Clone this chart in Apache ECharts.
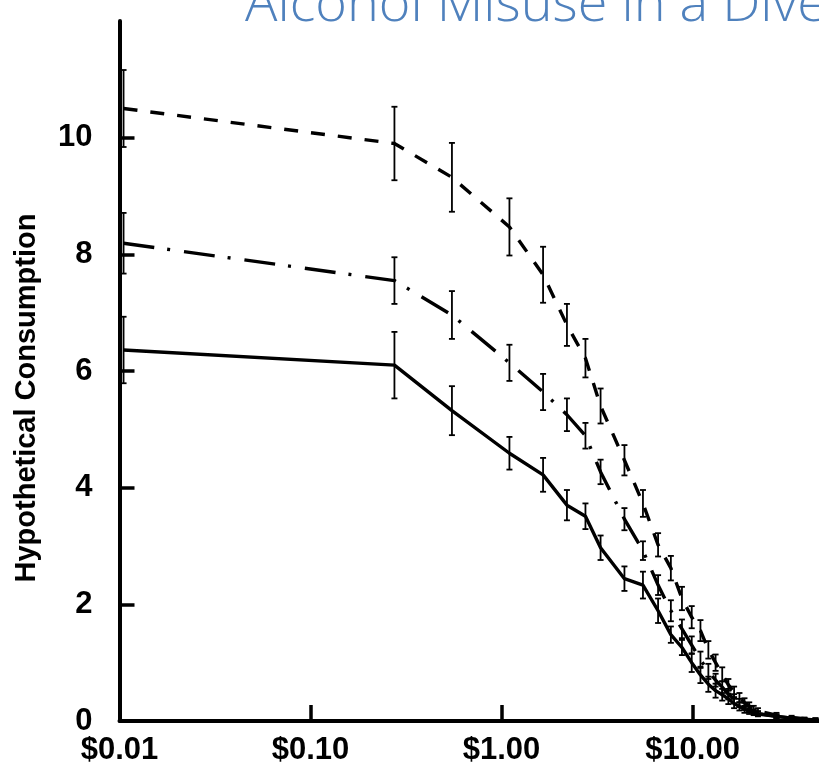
<!DOCTYPE html>
<html>
<head>
<meta charset="utf-8">
<script src="https://cdn.jsdelivr.net/npm/echarts@6/dist/echarts.min.js"></script>
<style>
  html, body { margin: 0; padding: 0; background: #ffffff; overflow: hidden; }
  #chart { width: 860px; height: 780px; }
</style>
</head>
<body>
<div id="chart"></div>
<script>
// Price per drink (log scale) at which consumption was reported
const prices = [0.0105, 0.275, 0.55, 1.1, 1.65, 2.2, 2.75, 3.3, 4.4, 5.5, 6.6, 7.7, 8.8, 9.9,
                11, 12.1, 13.2, 14.3, 15.4, 16.5, 17.6, 18.7, 19.8, 20.9, 22, 27.5, 33, 38.5, 44];

// Mean hypothetical consumption per group
const groupHigh = [10.50, 9.90, 9.32, 8.47, 7.65, 6.79, 6.22, 5.40, 4.47, 3.73, 3.02, 2.62, 2.10, 1.78,
                   1.55, 1.22, 1.00, 0.80, 0.62, 0.50, 0.40, 0.32, 0.26, 0.21, 0.17, 0.10, 0.06, 0.04, 0.03];
const groupMid  = [8.19, 7.55, 6.96, 6.14, 5.64, 5.25, 4.89, 4.27, 3.46, 2.92, 2.33, 1.89, 1.58, 1.30,
                   1.05, 0.85, 0.70, 0.58, 0.46, 0.38, 0.31, 0.25, 0.20, 0.16, 0.13, 0.08, 0.05, 0.03, 0.02];
const groupLow  = [6.36, 6.10, 5.32, 4.59, 4.22, 3.70, 3.51, 2.97, 2.44, 2.33, 1.89, 1.48, 1.26, 1.00,
                   0.79, 0.63, 0.52, 0.45, 0.38, 0.30, 0.25, 0.20, 0.17, 0.14, 0.12, 0.08, 0.05, 0.03, 0.02];

// Standard error of each mean
const errHigh = [0.66, 0.63, 0.59, 0.49, 0.48, 0.36, 0.33, 0.30, 0.26, 0.23, 0.20, 0.21, 0.20, 0.19,
                 0.18, 0.15, 0.14, 0.12, 0.10, 0.09, 0.08, 0.07, 0.06, 0.05, 0.05, 0.04, 0.03, 0.02, 0.02];
const errMid  = [0.52, 0.40, 0.41, 0.31, 0.31, 0.28, 0.22, 0.21, 0.19, 0.16, 0.17, 0.18, 0.16, 0.15,
                 0.14, 0.13, 0.11, 0.10, 0.09, 0.08, 0.07, 0.06, 0.05, 0.04, 0.04, 0.03, 0.02, 0.02, 0.02];
const errLow  = [0.57, 0.57, 0.42, 0.28, 0.29, 0.26, 0.22, 0.21, 0.21, 0.23, 0.21, 0.14, 0.13, 0.16,
                 0.14, 0.13, 0.12, 0.10, 0.09, 0.08, 0.07, 0.06, 0.05, 0.04, 0.04, 0.03, 0.02, 0.02, 0.02];

const xTickLabels = { '0.01': '$0.01', '0.1': '$0.10', '1': '$1.00', '10': '$10.00' };
const yTickLabels = [0, 2, 4, 6, 8, 10];
const yTickMarks = [2, 4, 6, 8, 10];

const titleText = 'Alcohol Misuse in a Diverse Sample';
const yTitle = 'Hypothetical Consumption';

const INK = '#000000';
const LABEL_FONT = '"Liberation Sans", Arial, sans-serif';

function pairs(values) {
  return prices.map((p, i) => [p, values[i]]);
}
function triples(values, errs) {
  return prices.map((p, i) => [p, values[i], errs[i]]);
}

function errorBarItem(params, api) {
  const x = api.value(0);
  const y = api.value(1);
  const e = api.value(2);
  const hi = api.coord([x, y + e]);
  const lo = api.coord([x, y - e]);
  const cap = 3;
  const style = { stroke: INK, lineWidth: 1.8 };
  return {
    type: 'group',
    children: [
      { type: 'line', shape: { x1: hi[0], y1: hi[1], x2: lo[0], y2: lo[1] }, style: style },
      { type: 'line', shape: { x1: hi[0] - cap, y1: hi[1], x2: hi[0] + cap, y2: hi[1] }, style: style },
      { type: 'line', shape: { x1: lo[0] - cap, y1: lo[1], x2: lo[0] + cap, y2: lo[1] }, style: style }
    ]
  };
}

function lineSeries(name, values, dash) {
  return {
    name: name,
    type: 'line',
    data: pairs(values),
    symbol: 'none',
    smooth: false,
    clip: true,
    z: 3,
    lineStyle: { color: INK, width: 3.4, type: dash, cap: 'butt' }
  };
}

function errorSeries(name, values, errs) {
  return {
    name: name,
    type: 'custom',
    data: triples(values, errs),
    encode: { x: 0, y: 1 },
    renderItem: errorBarItem,
    clip: true,
    z: 2
  };
}

const chart = echarts.init(document.getElementById('chart'), null, { renderer: 'canvas' });

chart.setOption({
  animation: false,
  backgroundColor: '#ffffff',
  grid: { left: 119.5, right: 0, top: 21, bottom: 59, containLabel: false },
  xAxis: {
    type: 'log',
    logBase: 10,
    min: 0.01,
    max: 72.6,
    axisLine: { show: true, lineStyle: { color: INK, width: 4 } },
    axisTick: { show: true, inside: true, length: 16, lineStyle: { color: INK, width: 3.5 } },
    splitLine: { show: false },
    axisLabel: {
      margin: 14,
      color: INK,
      fontFamily: LABEL_FONT,
      fontWeight: 'bold',
      fontSize: 31,
      formatter: function (v) {
        const key = String(+v.toPrecision(6));
        return xTickLabels[key] || '';
      }
    }
  },
  yAxis: {
    type: 'value',
    min: 0,
    max: 12,
    interval: 2,
    axisLine: { show: true, lineStyle: { color: INK, width: 4 } },
    axisTick: { show: true, inside: true, length: 15, customValues: yTickMarks,
                lineStyle: { color: INK, width: 3.5 } },
    splitLine: { show: false },
    axisLabel: {
      margin: 27,
      color: INK,
      fontFamily: LABEL_FONT,
      fontWeight: 'bold',
      fontSize: 31,
      customValues: yTickLabels
    }
  },
  graphic: [
    {
      type: 'text',
      x: 245,
      y: 33,
      style: {
        text: titleText,
        fill: '#4F81BD',
        font: '300 54px "Open Sans", "Liberation Sans", sans-serif',
        align: 'left',
        verticalAlign: 'bottom'
      }
    },
    {
      type: 'text',
      x: 27,
      y: 398,
      rotation: Math.PI / 2,
      style: {
        text: yTitle,
        fill: INK,
        font: 'bold 29px "Liberation Sans", Arial, sans-serif',
        align: 'center',
        verticalAlign: 'middle'
      }
    }
  ],
  series: [
    errorSeries('groupHighErr', groupHigh, errHigh),
    errorSeries('groupMidErr', groupMid, errMid),
    errorSeries('groupLowErr', groupLow, errLow),
    lineSeries('groupHigh', groupHigh, [14, 13]),
    lineSeries('groupMid', groupMid, [31, 13, 3, 14]),
    lineSeries('groupLow', groupLow, 'solid')
  ]
});
</script>
</body>
</html>
